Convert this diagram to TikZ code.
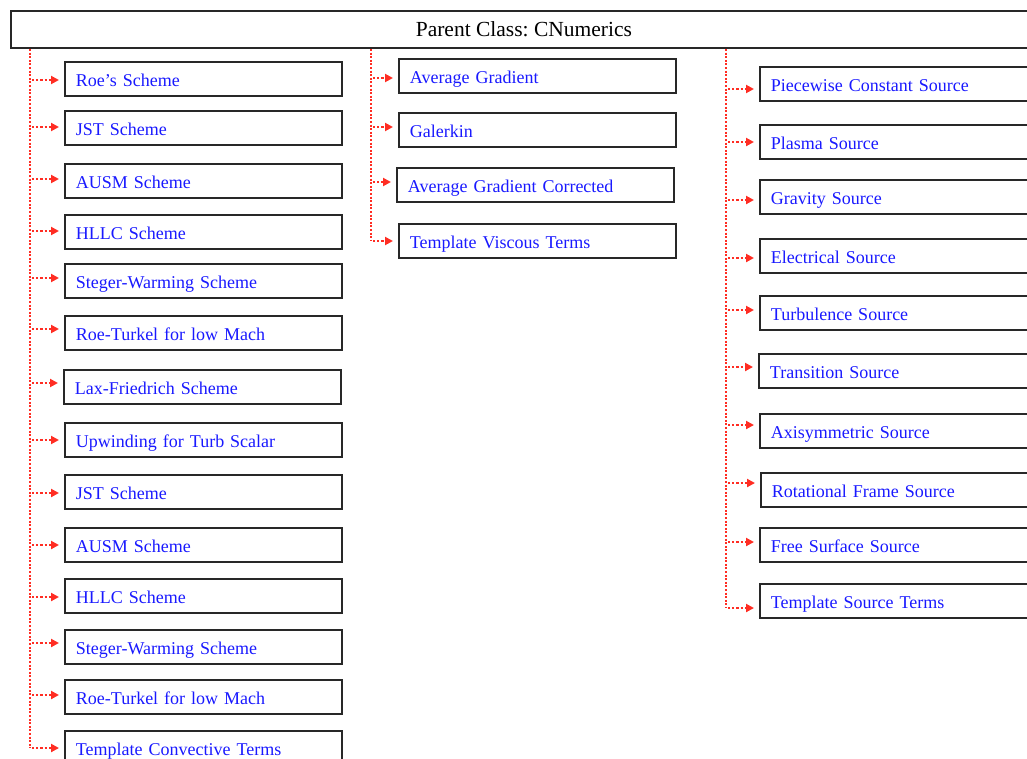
\documentclass[tikz,border=0pt]{standalone}
\usepackage{fontspec}
\setmainfont{Liberation Serif}
\frenchspacing
\usetikzlibrary{arrows.meta}
\definecolor{linkblue}{RGB}{25,25,255}
\definecolor{connred}{RGB}{255,45,35}
\definecolor{frame}{RGB}{40,40,40}
\tikzset{
  parentbox/.style={draw=frame, line width=1.8pt, anchor=north west,
    minimum width=1026pt, minimum height=37pt, inner sep=0pt,
    font=\fontsize{21.5}{22}\selectfont},
  classbox/.style={draw=frame, line width=1.8pt, anchor=north west,
    minimum height=34pt, inner ysep=0pt, inner xsep=11pt,
    text width=255pt, align=left, text height=15pt, text depth=0pt,
    text=linkblue, font=\fontsize{18}{18}\selectfont},
  widebox/.style={classbox, text width=290pt},
  trunk/.style={draw=connred, line width=2.4pt, dash pattern=on 2pt off 1.6pt},
  conn/.style={draw=connred, line width=2.4pt, dash pattern=on 2.2pt off 2pt,
    -{Triangle[length=8pt,width=8pt]}, shorten <=2pt, shorten >=5pt},
}
\begin{document}
\begin{tikzpicture}[x=1pt,y=-1pt]
\useasboundingbox (0,0) rectangle (1027,758);
\clip (0,0) rectangle (1027,758);

% parent class
\node[parentbox] (parent) at (10,10) {Parent Class: CNumerics};

% convective schemes
\node[classbox] (c1)  at (64,61)  {Roe’s Scheme};
\node[classbox] (c2)  at (64,110) {JST Scheme};
\node[classbox] (c3)  at (64,163) {AUSM Scheme};
\node[classbox] (c4)  at (64,214) {HLLC Scheme};
\node[classbox] (c5)  at (64,263) {Steger-Warming Scheme};
\node[classbox] (c6)  at (64,315) {Roe-Turkel for low Mach};
\node[classbox] (c7)  at (63,369) {Lax-Friedrich Scheme};
\node[classbox] (c8)  at (64,422) {Upwinding for Turb Scalar};
\node[classbox] (c9)  at (64,474) {JST Scheme};
\node[classbox] (c10) at (64,527) {AUSM Scheme};
\node[classbox] (c11) at (64,578) {HLLC Scheme};
\node[classbox] (c12) at (64,629) {Steger-Warming Scheme};
\node[classbox] (c13) at (64,679) {Roe-Turkel for low Mach};
\node[classbox] (c14) at (64,730) {Template Convective Terms};

% viscous terms
\node[classbox] (v1) at (398,58)  {Average Gradient};
\node[classbox] (v2) at (398,112) {Galerkin};
\node[classbox] (v3) at (396,167) {Average Gradient Corrected};
\node[classbox] (v4) at (398,223) {Template Viscous Terms};

% source terms
\node[widebox] (s1)  at (759,66)  {Piecewise Constant Source};
\node[widebox] (s2)  at (759,124) {Plasma Source};
\node[widebox] (s3)  at (759,179) {Gravity Source};
\node[widebox] (s4)  at (759,238) {Electrical Source};
\node[widebox] (s5)  at (759,295) {Turbulence Source};
\node[widebox] (s6)  at (758,353) {Transition Source};
\node[widebox] (s7)  at (759,413) {Axisymmetric Source};
\node[widebox] (s8)  at (760,472) {Rotational Frame Source};
\node[widebox] (s9)  at (759,527) {Free Surface Source};
\node[widebox] (s10) at (759,583) {Template Source Terms};

% branch points on the trunks
\foreach \n/\y in {1/80,2/127,3/179,4/231,5/278,6/329,7/383,8/440,9/493,10/545,11/597,12/643,13/695,14/748}
  \coordinate (lc\n) at (30,\y);
\foreach \n/\y in {1/78,2/127,3/182,4/241}
  \coordinate (lv\n) at (371,\y);
\foreach \n/\y in {1/89,2/142,3/200,4/258,5/310,6/367,7/425,8/483,9/542,10/608}
  \coordinate (ls\n) at (726,\y);
\coordinate (tc) at (lc1 |- 0,49);
\coordinate (tv) at (lv1 |- 0,49);
\coordinate (ts) at (ls1 |- 0,49);

% trunks
\draw[trunk] (tc) -- (lc14);
\draw[trunk] (tv) -- (lv4);
\draw[trunk] (ts) -- (ls10);

% connectors
\foreach \n in {1,...,14}
  \draw[conn] (lc\n) -- (lc\n -| c\n.west);
\foreach \n in {1,...,4}
  \draw[conn] (lv\n) -- (lv\n -| v\n.west);
\foreach \n in {1,...,10}
  \draw[conn] (ls\n) -- (ls\n -| s\n.west);
\end{tikzpicture}
\end{document}
